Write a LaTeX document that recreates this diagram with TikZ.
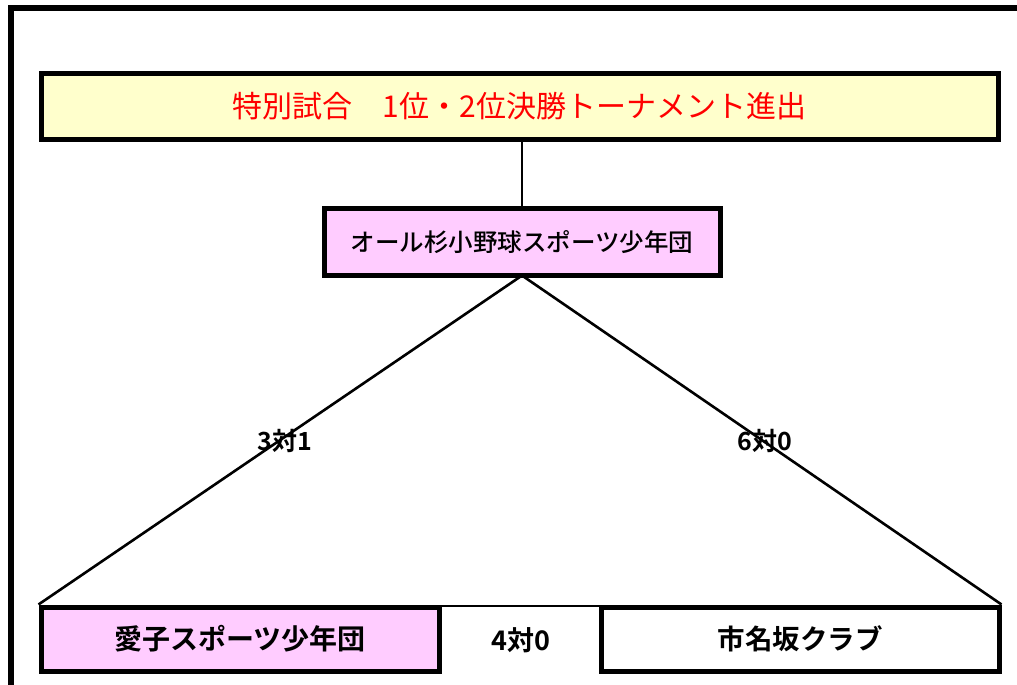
\documentclass[tikz,border=0pt]{standalone}
\usepackage{fontspec}
\newfontfamily\jp{Noto Sans CJK JP}
\newfontfamily\jpm{Noto Sans CJK JP Medium}
\newfontfamily\jpb{Noto Sans CJK JP Bold}
\definecolor{titlefill}{HTML}{FFFFCC}
\definecolor{pinkfill}{HTML}{FFCCFF}
\definecolor{titlered}{HTML}{FF0000}
\tikzset{
  box/.style={draw=black, line width=5pt, rectangle, inner sep=0pt, outer sep=0pt},
  shadowed/.style={preaction={fill=black!45, transform canvas={xshift=2.5pt, yshift=-2.5pt}}},
  conn/.style={draw=black, line width=2pt},
  diag/.style={draw=black, line width=2.6pt},
  score/.style={font=\jpb\fontsize{25}{25}\selectfont, inner sep=0pt},
}
\begin{document}
\begin{tikzpicture}[x=1pt, y=-1pt]
\useasboundingbox (0,0) rectangle (1017,685);
% outer frame
\draw[line width=6pt] (11,690) -- (11,8) -- (1025,8);
% boxes
\node[box, shadowed, fill=titlefill, minimum width=957pt, minimum height=66pt] (title) at (519.5,106.5)
  {\jp\fontsize{30}{30}\selectfont\color{titlered}特別試合　1位・2位決勝トーナメント進出};
\node[box, shadowed, fill=pinkfill, minimum width=396pt, minimum height=67pt] (mid) at (522,242)
  {\jpm\fontsize{24.5}{25}\selectfont オール杉小野球スポーツ少年団};
\node[box, shadowed, fill=pinkfill, minimum width=398pt, minimum height=64pt] (left) at (240,639)
  {\jpb\fontsize{28}{28}\selectfont 愛子スポーツ少年団};
\node[box, shadowed, fill=white, minimum width=398pt, minimum height=64pt] (right) at (800,639)
  {\jpb\fontsize{27.5}{28}\selectfont 市名坂クラブ};
% connectors
\draw[conn] (mid.north) -- (mid.north |- title.south);
\draw[diag] (mid.south) -- ([xshift=-2.5pt,yshift=2.5pt]left.north west);
\draw[diag] (mid.south) -- ([xshift=2.5pt,yshift=2.5pt]right.north east);
\draw[conn] ([yshift=1.5pt]left.north east) -- ([yshift=1.5pt]right.north west);
% score labels
\node[score] (s31) at (285,441) {3対1};
\node[score] (s60) at (765,441) {6対0};
\node[score, font=\jpb\fontsize{27}{27}\selectfont] (s40) at (521,640) {4対0};
\end{tikzpicture}
\end{document}
